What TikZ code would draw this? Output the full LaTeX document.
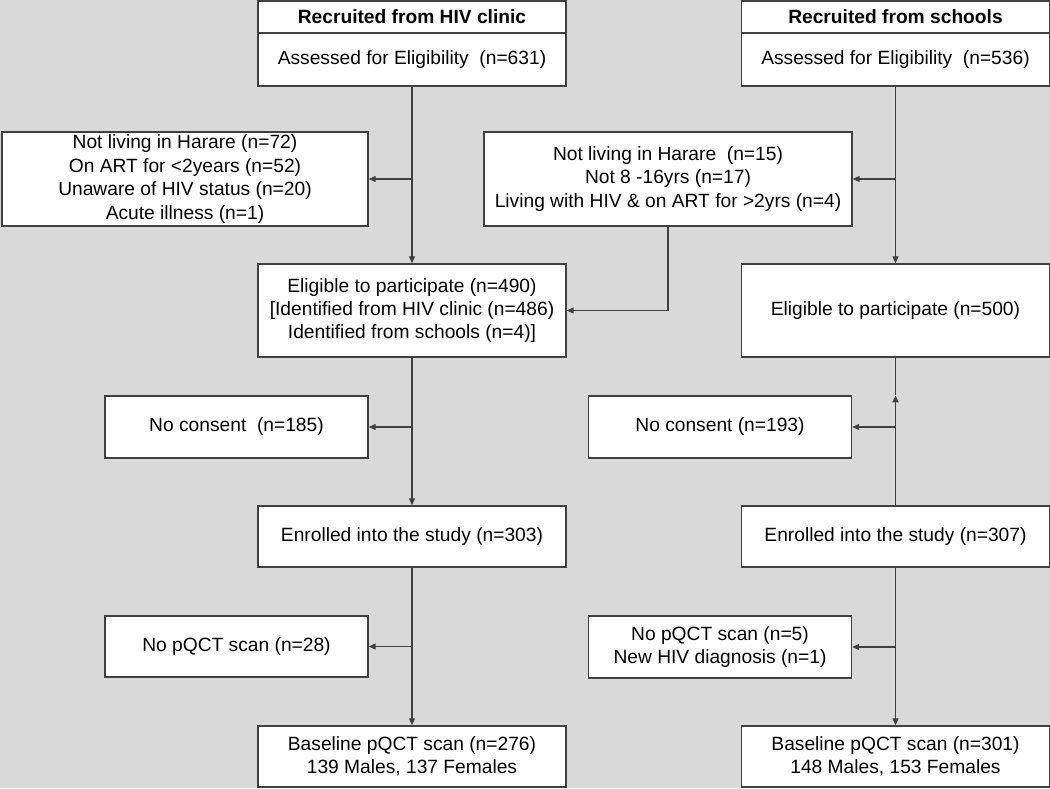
\documentclass[tikz,border=0pt]{standalone}
\usepackage{fontspec}
\setmainfont{Liberation Sans}
\usepackage{tikz}
\usetikzlibrary{arrows.meta}

\definecolor{bg}{RGB}{217,217,217}
\definecolor{ln}{RGB}{64,64,64}

\tikzset{
  box/.style={draw=ln, fill=white, line width=0.7pt, inner sep=0pt, align=center,
    font=\fontsize{9.6pt}{11.7pt}\selectfont},
  wide/.style={box, minimum width=154pt},
  side/.style={box, minimum width=131.5pt},
  arr/.style={draw=ln, line width=0.6pt, -{Triangle[length=3.5pt,width=3pt]}},
  ln/.style={draw=ln, line width=0.6pt}
}

\begin{document}
\begin{tikzpicture}[x=0.5pt, y=-0.5pt]
			\fill[bg] (0,0) rectangle (1050,788);
			\useasboundingbox (0,0) rectangle (1050,788);

			\node[wide, minimum height=16pt] (head1)   at (412, 17)  {\bfseries Recruited from HIV clinic};
			\node[wide, minimum height=26.5pt] (assess1) at (412, 59.5)  {Assessed for Eligibility\ \ (n=631)};
			\node[wide, minimum height=16pt] (head2)   at (895.5, 17)  {\bfseries Recruited from schools};
			\node[wide, minimum height=26.5pt] (assess2) at (895.5, 59.5)  {Assessed for Eligibility\ \ (n=536)};
			\node[box, minimum width=183pt, minimum height=47pt] (excl1) at (185, 179)
				{Not living in Harare (n=72)\\ On ART for <2years (n=52)\\ Unaware of HIV status (n=20)\\ Acute illness (n=1)};
			\node[box, minimum width=184pt, minimum height=47pt] (excl2) at (668, 179)
				{Not living in Harare\ \ (n=15)\\ Not 8 -16yrs (n=17)\\ Living with HIV \& on ART for >2yrs (n=4)};
			\node[wide, minimum height=46.5pt] (elig1) at (412, 310.5)
				{Eligible to participate (n=490)\\ {[}Identified from HIV clinic (n=486)\\ Identified from schools (n=4)]};
			\node[wide, minimum height=46.5pt] (elig2) at (895.5, 310.5) {Eligible to participate (n=500)};
			\node[side, minimum height=31pt] (nocons1) at (236.5, 427) {No consent\ \ (n=185)};
			\node[side, minimum height=31pt] (nocons2) at (720, 427) {No consent (n=193)};
			\node[wide, minimum height=30.5pt] (enrol1) at (412, 536.5) {Enrolled into the study (n=303)};
			\node[wide, minimum height=30.5pt] (enrol2) at (895.5, 536.5) {Enrolled into the study (n=307)};
			\node[side, minimum height=30.5pt] (noscan1) at (236.5, 646.5) {No pQCT scan (n=28)};
			\node[side, minimum height=31pt] (noscan2) at (720, 647) {No pQCT scan (n=5)\\ New HIV diagnosis (n=1)};
			\node[wide, minimum height=30.5pt] (base1) at (412, 756.5) {Baseline pQCT scan (n=276)\\ 139 Males, 137 Females};
			\node[wide, minimum height=30.5pt] (base2) at (895.5, 756.5) {Baseline pQCT scan (n=301)\\ 148 Males, 153 Females};

			\coordinate (up2) at (elig2.south |- nocons2.north);

			\draw[arr] (assess1) -- (elig1);
			\draw[arr] (assess1.south |- excl1.east) -- (excl1.east);
			\draw[arr] (assess2) -- (elig2);
			\draw[arr] (assess2.south |- excl2.east) -- (excl2.east);
			\draw[arr] (excl2.south) |- (elig1.east);
			\draw[arr] (elig1) -- (enrol1);
			\draw[arr] (elig1.south |- nocons1.east) -- (nocons1.east);
			\draw[ln] (elig2.south) -- (up2);
			\draw[arr] (enrol2.north) -- (up2);
			\draw[arr] (elig2.south |- nocons2.east) -- (nocons2.east);
			\draw[arr] (enrol1) -- (base1);
			\draw[arr] (enrol1.south |- noscan1.east) -- (noscan1.east);
			\draw[arr] (enrol2) -- (base2);
			\draw[arr] (enrol2.south |- noscan2.east) -- (noscan2.east);
		\end{tikzpicture}
\end{document}
